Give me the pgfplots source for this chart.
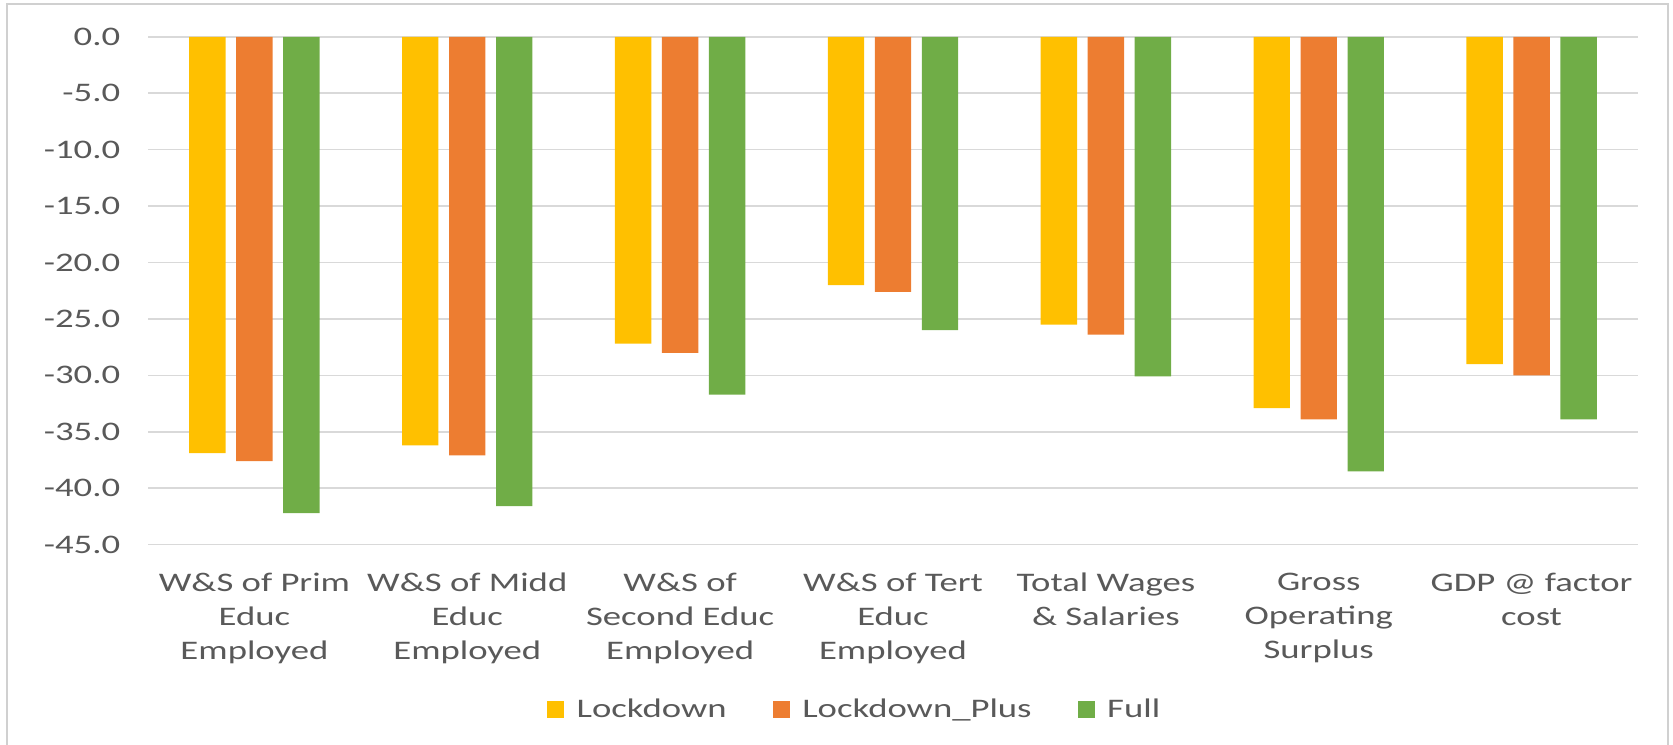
\documentclass[border=0pt]{standalone}
\usepackage{fontspec}
\setmainfont{Carlito}[FakeStretch=1.37]
\usepackage{pgfplots}
\pgfplotsset{compat=1.18}
\definecolor{cy}{HTML}{FFC000}
\definecolor{co}{HTML}{ED7D31}
\definecolor{cg}{HTML}{70AD47}
\definecolor{cgrid}{HTML}{D9D9D9}
\definecolor{cframe}{HTML}{D0D0D0}
\definecolor{ctext}{HTML}{595959}
\begin{document}
\begin{tikzpicture}
\useasboundingbox (0,0) rectangle (836.5pt,372pt);
\begin{scope}
\clip (0,0) rectangle (836.5pt,372pt);
\draw[cframe, line width=1pt] (3.5pt,-20pt) -- (3.5pt,370pt) -- (834pt,370pt) -- (834pt,-20pt);
\end{scope}
\begin{axis}[
  at={(74pt,99.7pt)}, anchor=south west,
  width=745pt, height=253.9pt, scale only axis,
  ybar=5.3pt, bar width=18.2pt,
  xmin=-0.5, xmax=6.5, ymin=-45, ymax=0,
  ytick={-45,-40,...,0},
  xtick={0,1,2,3,4,5,6},
  xticklabels={{W\&S of Prim\\Educ\\Employed},{W\&S of Midd\\Educ\\Employed},{W\&S of\\Second Educ\\Employed},{W\&S of Tert\\Educ\\Employed},{Total Wages\\\& Salaries},{Gross\\Operating\\Surplus},{GDP @ factor\\cost}},
  ymajorgrids, grid style={cgrid, line width=0.75pt},
  axis line style={draw=none},
  major tick length=0pt,
  /pgf/number format/fixed, /pgf/number format/fixed zerofill,
  /pgf/number format/precision=1, /pgf/number format/assume math mode=true,
  ticklabel style={font=\fontsize{13.4}{17}\selectfont, text=ctext},
  yticklabel style={anchor=east, inner sep=0pt, xshift=-13.7pt},
  xticklabel style={anchor=north, align=center, inner sep=0pt, yshift=-14pt},
  legend image code/.code={\fill[#1] (0pt,-4.25pt) rectangle (8.5pt,4.25pt);},
  legend columns=3,
  legend style={at={(0.4778,-0.3257)}, anchor=center, draw=none, fill=none,
    font=\fontsize{13.4}{16}\selectfont, text=ctext,
    nodes={inner xsep=6.3pt, inner ysep=0pt},
    /tikz/every even column/.append style={column sep=16.7pt}},
]
\addplot[fill=cy, draw=none] coordinates {(0,-36.9) (1,-36.2) (2,-27.2) (3,-22.0) (4,-25.5) (5,-32.9) (6,-29.0)};
\addplot[fill=co, draw=none] coordinates {(0,-37.6) (1,-37.1) (2,-28.0) (3,-22.6) (4,-26.4) (5,-33.9) (6,-30.0)};
\addplot[fill=cg, draw=none] coordinates {(0,-42.2) (1,-41.6) (2,-31.7) (3,-26.0) (4,-30.1) (5,-38.5) (6,-33.9)};
\legend{Lockdown,Lockdown\_Plus,Full}
\end{axis}
\end{tikzpicture}
\end{document}
